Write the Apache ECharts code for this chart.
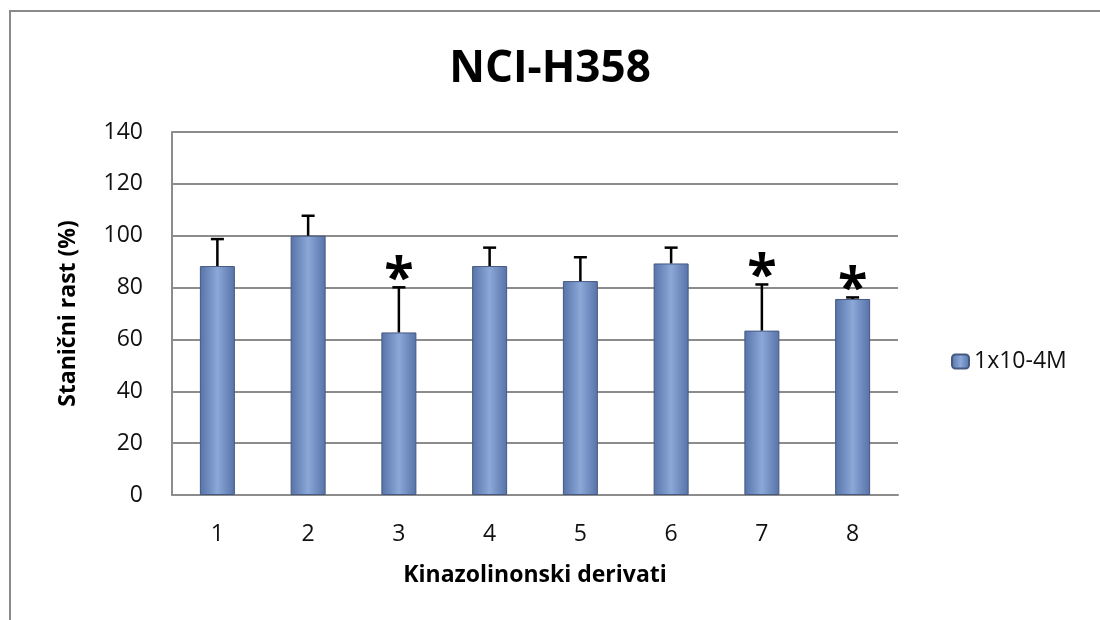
<!DOCTYPE html>
<html>
<head>
<meta charset="utf-8">
<script src="https://cdn.jsdelivr.net/npm/echarts@6/dist/echarts.min.js"></script>
<style>
html, body { margin: 0; padding: 0; background: #fff; }
#chart { width: 1100px; height: 620px; }
</style>
</head>
<body>
<div id="chart"></div>
<script>
// derivati 1-8, stanicni rast (%)
var categories = ['1', '2', '3', '4', '5', '6', '7', '8'];
var means = [88.3, 100, 62.7, 88.3, 82.5, 89.3, 63.4, 75.6];
var errTop = [98.7, 107.7, 80.1, 95.4, 91.7, 95.4, 81.2, 76.2];
var stars = ['', '', '*', '', '', '', '*', '*'];

var font = '"Open Sans", "DejaVu Sans", sans-serif';

var errData = categories.map(function (c, i) {
    return [i, means[i], errTop[i], stars[i]];
});

var myChart = echarts.init(document.getElementById('chart'));

myChart.setOption({
    animation: false,
    backgroundColor: '#fff',
    graphic: [{
        type: 'rect',
        shape: { x: 10, y: 11, width: 1200, height: 700 },
        style: { fill: 'none', stroke: '#8a8a8a', lineWidth: 2 },
        silent: true
    }],
    title: {
        text: 'NCI-H358',
        left: 'center',
        top: 42,
        textStyle: { fontFamily: font, fontSize: 44, fontWeight: 'bold', color: '#000' }
    },
    legend: {
        data: ['1x10-4M'],
        orient: 'vertical',
        left: 946,
        top: 345,
        itemWidth: 17,
        itemHeight: 14,
        itemGap: 6,
        textStyle: { fontFamily: font, fontSize: 23, color: '#111' }
    },
    grid: {
        left: 172,
        right: 202,
        top: 132,
        bottom: 125
    },
    xAxis: {
        type: 'category',
        data: categories,
        name: 'Kinazolinonski derivati',
        nameLocation: 'middle',
        nameGap: 69,
        nameTextStyle: { fontFamily: font, fontSize: 23, fontWeight: 'bold', color: '#000' },
        axisLine: { lineStyle: { color: '#8c8c8c', width: 2 } },
        axisTick: { show: false },
        axisLabel: { fontFamily: font, fontSize: 23, color: '#111', margin: 28 }
    },
    yAxis: {
        type: 'value',
        min: 0,
        max: 140,
        interval: 20,
        name: 'Stanični rast (%)',
        nameLocation: 'middle',
        nameGap: 92,
        nameTextStyle: { fontFamily: font, fontSize: 23, fontWeight: 'bold', color: '#000' },
        axisLine: { show: true, lineStyle: { color: '#8c8c8c', width: 2 } },
        axisTick: { show: false },
        axisLabel: { fontFamily: font, fontSize: 23, color: '#111', margin: 29 },
        splitLine: { lineStyle: { color: '#8c8c8c', width: 2 } }
    },
    series: [
        {
            name: '1x10-4M',
            type: 'bar',
            data: means,
            barWidth: 35,
            itemStyle: {
                color: new echarts.graphic.LinearGradient(0, 0, 1, 0, [
                    { offset: 0, color: '#5672a8' },
                    { offset: 0.5, color: '#8ba8d8' },
                    { offset: 1, color: '#5672a8' }
                ]),
                borderColor: '#46597f',
                borderWidth: 1
            },
            z: 2
        },
        {
            name: 'err',
            type: 'custom',
            data: errData,
            encode: { x: 0, y: [1, 2] },
            z: 3,
            renderItem: function (params, api) {
                var i = api.value(0);
                var lo = api.coord([i, api.value(1)]);
                var hi = api.coord([i, api.value(2)]);
                var cap = 6.5;
                var children = [
                    {
                        type: 'line',
                        shape: { x1: lo[0], y1: lo[1], x2: hi[0], y2: hi[1] },
                        style: { stroke: '#000', lineWidth: 2.5 }
                    },
                    {
                        type: 'line',
                        shape: { x1: hi[0] - cap, y1: hi[1], x2: hi[0] + cap, y2: hi[1] },
                        style: { stroke: '#000', lineWidth: 2.5 }
                    }
                ];
                var s = stars[params.dataIndex];
                if (s) {
                    children.push({
                        type: 'text',
                        x: hi[0],
                        y: hi[1] + 20,
                        style: {
                            text: s,
                            fontFamily: font,
                            fontSize: 54,
                            fontWeight: 'bold',
                            fill: '#000',
                            align: 'center',
                            verticalAlign: 'bottom'
                        }
                    });
                }
                return { type: 'group', children: children };
            }
        }
    ]
});
</script>
</body>
</html>
